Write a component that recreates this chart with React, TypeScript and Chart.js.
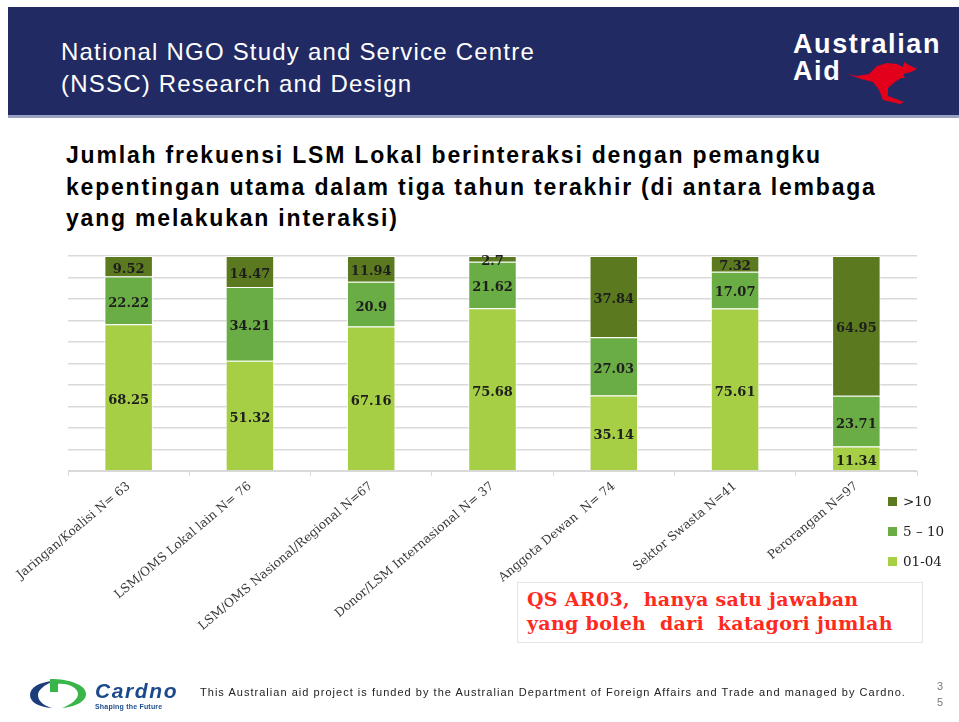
import React, { useEffect, useRef } from "react";
import { Chart, registerables } from "chart.js";

Chart.register(...registerables);

const categories = [
  "Jaringan/Koalisi N= 63",
  "LSM/OMS Lokal lain N= 76",
  "LSM/OMS Nasional/Regional N=67",
  "Donor/LSM Internasional N= 37",
  "Anggota Dewan  N= 74",
  "Sektor Swasta N=41",
  "Perorangan N=97",
];
const seriesNames = ["01-04", "5 – 10", ">10"];
const values0104 = [68.25, 51.32, 67.16, 75.68, 35.14, 75.61, 11.34];
const values0510 = [22.22, 34.21, 20.9, 21.62, 27.03, 17.07, 23.71];
const valuesOver10 = [9.52, 14.47, 11.94, 2.7, 37.84, 7.32, 64.95];
const seriesColors = ["#a6cf46", "#6bad45", "#5b7a1f"];
const yTicks = [0, 10, 20, 30, 40, 50, 60, 70, 80, 90, 100];

const CANVAS_TOP = 246;
const CANVAS_H = 476;
const PLOT_BOTTOM_IN_CANVAS = 225;

const dataLabelPlugin = {
  id: "segLabels",
  afterDatasetsDraw(chart: any) {
    const ctx = chart.ctx;
    ctx.save();
    ctx.font = "bold 13px 'DejaVu Serif'";
    ctx.fillStyle = "#1e1e1e";
    ctx.textAlign = "center";
    ctx.textBaseline = "middle";
    chart.data.datasets.forEach((ds: any, i: number) => {
      const meta = chart.getDatasetMeta(i);
      meta.data.forEach((bar: any, j: number) => {
        const p = bar.getProps(["x", "y", "base"], true);
        ctx.fillText(String(ds.data[j]), p.x, (p.y + p.base) / 2 + 3);
      });
    });
    ctx.restore();
  },
};

function ChartBox() {
  const ref = useRef<HTMLCanvasElement | null>(null);
  useEffect(() => {
    if (!ref.current) return;
    const seriesData = [values0104, values0510, valuesOver10];
    const chart = new Chart(ref.current, {
      type: "bar",
      data: {
        labels: categories,
        datasets: seriesData.map((d, i) => ({
          label: seriesNames[i],
          data: d,
          backgroundColor: seriesColors[i],
          borderColor: "rgba(255,255,255,0.85)",
          borderWidth: 1,
          barPercentage: 0.4,
          categoryPercentage: 1,
        })),
      },
      options: {
        animation: false,
        responsive: true,
        maintainAspectRatio: false,
        layout: { padding: { left: 68, right: 42, top: 10, bottom: 0 } },
        plugins: { legend: { display: false }, tooltip: { enabled: false } },
        scales: {
          x: {
            stacked: true,
            grid: {
              display: true,
              drawOnChartArea: false,
              drawTicks: true,
              tickLength: 5,
              color: "#d9d9d9",
            },
            border: { display: true, color: "#d9d9d9", width: 1 },
            ticks: {
              autoSkip: false,
              minRotation: 40,
              maxRotation: 40,
              color: "#3a3a3a",
              font: { family: "'DejaVu Serif'", size: 12.3 },
              padding: 3,
            },
            afterFit: (scale: any) => {
              scale.height = CANVAS_H - PLOT_BOTTOM_IN_CANVAS;
            },
          },
          y: {
            stacked: true,
            min: 0,
            max: 100,
            afterBuildTicks: (scale: any) => {
              scale.ticks = yTicks.map((v) => ({ value: v }));
            },
            ticks: { display: false },
            grid: { color: "#d9d9d9", lineWidth: 1.5, drawTicks: false },
            border: { display: false },
            afterFit: (scale: any) => {
              scale.width = 0;
            },
          },
        },
      },
      plugins: [dataLabelPlugin],
    });
    return () => chart.destroy();
  }, []);
  return (
    <div style={{ position: "absolute", left: 0, top: CANVAS_TOP, width: 959, height: CANVAS_H }}>
      <canvas ref={ref} />
    </div>
  );
}

export default function App() {
  const legendOrder = [2, 1, 0];
  return (
    <div
      style={{
        position: "absolute",
        left: 0,
        top: 0,
        width: 959,
        height: 722,
        background: "#fff",
        overflow: "hidden",
        fontFamily: "'Liberation Sans', Arial, sans-serif",
      }}
    >
      {/* header banner */}
      <div style={{ position: "absolute", left: 8, top: 7, width: 951, height: 108, background: "#222a63" }} />
      <div style={{ position: "absolute", left: 8, top: 115, width: 951, height: 3, background: "#9aa0bf" }} />
      <div
        style={{
          position: "absolute",
          left: 61,
          top: 36,
          color: "#fff",
          fontSize: 24,
          lineHeight: "32px",
          letterSpacing: 1.2,
          whiteSpace: "pre",
        }}
      >
        {"National NGO Study and Service Centre\n(NSSC) Research and Design"}
      </div>
      <div
        style={{
          position: "absolute",
          left: 793,
          top: 31,
          color: "#fff",
          fontWeight: "bold",
          fontSize: 27,
          lineHeight: "27px",
          letterSpacing: 1.6,
          whiteSpace: "pre",
        }}
      >
        {"Australian\nAid"}
      </div>
      <svg style={{ position: "absolute", left: 847, top: 62 }} width={72} height={43}>
        <path
          d="M0 12 L10 14 L22 12 L30 4 L40 1 L50 2 L56 5 L57 0 L60 2 L62 3 L70 7 L64 10 L56 12 L58 16 L54 16 L48 20 L41 26 L41 34 L57 40 L53 42 L36 38 L32 28 L26 20 L14 17 Z"
          fill="#e3001b"
        />
      </svg>

      {/* title */}
      <div
        style={{
          position: "absolute",
          left: 66,
          top: 140,
          color: "#000",
          fontWeight: "bold",
          fontSize: 23,
          lineHeight: "31.5px",
          letterSpacing: 1.8,
          whiteSpace: "pre",
        }}
      >
        {"Jumlah frekuensi LSM Lokal berinteraksi dengan pemangku\nkepentingan utama dalam tiga tahun terakhir (di antara lembaga\nyang melakukan interaksi)"}
      </div>

      <ChartBox />

      {/* legend */}
      {legendOrder.map((idx, k) => (
        <div
          key={idx}
          style={{
            position: "absolute",
            left: 888,
            top: 493 + k * 30,
            height: 16,
            display: "flex",
            alignItems: "center",
            fontFamily: "'DejaVu Serif', serif",
            fontSize: 13.5,
            color: "#222",
            whiteSpace: "pre",
          }}
        >
          <span style={{ display: "inline-block", width: 9, height: 9, background: seriesColors[idx], marginRight: 6 }} />
          {seriesNames[idx]}
        </div>
      ))}

      {/* note box */}
      <div
        style={{
          position: "absolute",
          left: 517,
          top: 582,
          width: 404,
          height: 59,
          border: "1px solid #e4e4e4",
          background: "#fff",
        }}
      />
      <div
        style={{
          position: "absolute",
          left: 527,
          top: 587,
          color: "#ff2a1f",
          fontFamily: "'DejaVu Serif', serif",
          fontWeight: "bold",
          fontSize: 19,
          lineHeight: "24px",
          letterSpacing: 0.3,
          whiteSpace: "pre",
        }}
      >
        {"QS AR03,  hanya satu jawaban\nyang boleh  dari  katagori jumlah"}
      </div>

      {/* footer */}
      <svg style={{ position: "absolute", left: 28, top: 676 }} width={64} height={36}>
        <path d="M26 5 C10 6 2 12 2 19 C2 26 10 31 24 32 C14 29 10 24 10 19 C10 14 16 9 26 5 Z" fill="#1c3d7a" />
        <path d="M22 3 C42 3 58 9 58 18 C58 26 46 31 34 32 C44 28 50 23 50 18 C50 12 40 7 30 8 L30 16 L22 16 Z" fill="#39b54a" />
      </svg>
      <div
        style={{
          position: "absolute",
          left: 95,
          top: 680,
          color: "#1b4a8c",
          fontWeight: "bold",
          fontStyle: "italic",
          fontSize: 21,
          lineHeight: "22px",
          letterSpacing: 1.6,
        }}
      >
        Cardno
      </div>
      <div
        style={{
          position: "absolute",
          left: 95,
          top: 702,
          color: "#1b4a8c",
          fontWeight: "bold",
          fontSize: 7,
          lineHeight: "9px",
          letterSpacing: 0.2,
        }}
      >
        Shaping the Future
      </div>
      <div
        style={{
          position: "absolute",
          left: 200,
          top: 685,
          color: "#222",
          fontSize: 11,
          lineHeight: "14px",
          letterSpacing: 1.03,
          whiteSpace: "pre",
        }}
      >
        This Australian aid project is funded by the Australian Department of Foreign Affairs and Trade and managed by Cardno.
      </div>
      <div
        style={{
          position: "absolute",
          left: 937,
          top: 678,
          color: "#777",
          fontSize: 11,
          lineHeight: "16px",
          whiteSpace: "pre",
        }}
      >
        {"3\n5"}
      </div>
    </div>
  );
}
